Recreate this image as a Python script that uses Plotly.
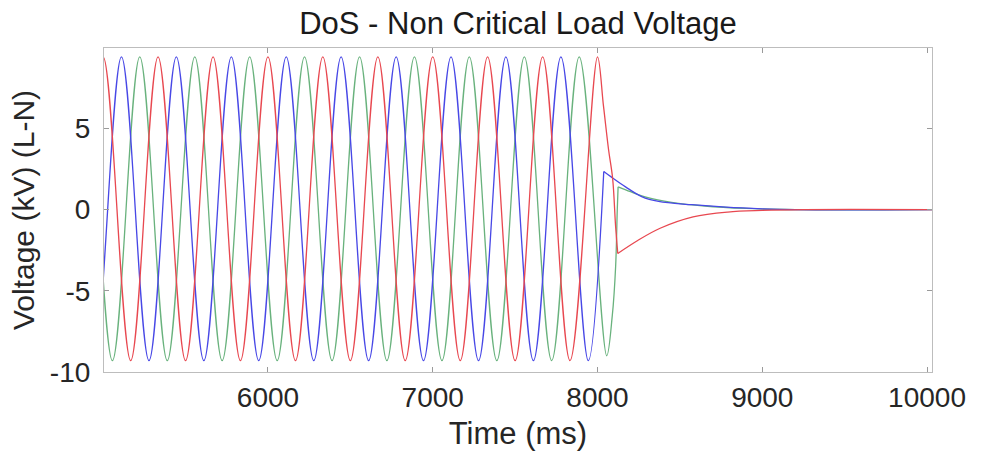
import plotly.graph_objects as go

# ---------------- data ----------------
# Phase A (red): extrema of the steady waveform, then the fall at the switching instant
red_t = [4833, 5000, 5167, 5333, 5500, 5667, 5833, 6000, 6167, 6333, 6500, 6667, 6833,
         7000, 7167, 7333, 7500, 7667, 7833, 8000, 8036, 8067, 8092, 8110, 8123]
red_v = [-9.3, 9.4, -9.3, 9.4, -9.3, 9.4, -9.3, 9.4, -9.3, 9.4, -9.3, 9.4, -9.3,
         9.4, -9.3, 9.4, -9.3, 9.4, -9.3, 9.4, 6.4, 3.7, 1.9, -1.05, -2.7]
red_decay_t = [8123, 8244, 8380, 8580, 8790, 9000, 9250, 10030]
red_decay_v = [-2.7, -1.9, -1.15, -0.45, -0.15, -0.05, 0.0, 0.0]

# Phase B (blue)
blue_t = [4778, 4944, 5111, 5278, 5444, 5611, 5778, 5944, 6111, 6278, 6444, 6611, 6778,
          6944, 7111, 7278, 7444, 7611, 7778, 7944, 8038]
blue_v = [9.4, -9.3, 9.4, -9.3, 9.4, -9.3, 9.4, -9.3, 9.4, -9.3, 9.4, -9.3, 9.4,
          -9.3, 9.4, -9.3, 9.4, -9.3, 9.4, -9.3, 2.35]
blue_decay_t = [8038, 8085, 8170, 8268, 8371, 8572, 8779, 9000, 9200, 10030]
blue_decay_v = [2.35, 2.0, 1.4, 0.8, 0.5, 0.3, 0.15, 0.05, 0.0, 0.0]

# Phase C (green)
green_t = [4722, 4889, 5056, 5222, 5389, 5556, 5722, 5889, 6056, 6222, 6389, 6556, 6722,
           6889, 7056, 7222, 7389, 7556, 7722, 7889, 8056, 8090, 8110, 8120, 8125]
green_v = [-9.3, 9.4, -9.3, 9.4, -9.3, 9.4, -9.3, 9.4, -9.3, 9.4, -9.3, 9.4, -9.3,
           9.4, -9.3, 9.4, -9.3, 9.4, -9.3, 9.4, -9.0, -6.5, -3.5, 0.0, 1.4]
green_decay_t = [8125, 8200, 8300, 8450, 8650, 8900, 9200, 10030]
green_decay_v = [1.4, 1.1, 0.75, 0.45, 0.22, 0.07, 0.0, 0.0]

x_ticks = [6000, 7000, 8000, 9000, 10000]
x_tick_text = ["6000", "7000", "8000", "9000", "10000"]
y_ticks = [-10, -5, 0, 5]
y_tick_text = ["-10", "-5", "0", "5"]

title_text = "DoS - Non Critical Load Voltage"
x_title = "Time (ms)"
y_title = "Voltage (kV) (L-N)"

# ---------------- styling ----------------
RED = "rgb(232,72,80)"
BLUE = "rgb(72,72,230)"
GREEN = "rgb(105,178,125)"
FONT = "Liberation Sans, Arial, Helvetica, sans-serif"
LW = 1.3

fig = go.Figure()

def add_phase(t, v, dt, dv, color):
    fig.add_trace(go.Scatter(x=t, y=v, mode="lines",
                             line=dict(color=color, width=LW, shape="spline"),
                             showlegend=False, hoverinfo="skip"))
    fig.add_trace(go.Scatter(x=dt, y=dv, mode="lines",
                             line=dict(color=color, width=LW, shape="spline"),
                             showlegend=False, hoverinfo="skip"))

add_phase(green_t, green_v, green_decay_t, green_decay_v, GREEN)
add_phase(blue_t, blue_v, blue_decay_t, blue_decay_v, BLUE)
add_phase(red_t, red_v, red_decay_t, red_decay_v, RED)

axis_common = dict(
    showgrid=False, zeroline=False, showline=True, linecolor="#bdbdbd", linewidth=1.2,
    mirror="allticks", ticks="inside", ticklen=5, tickcolor="#9a9a9a", tickwidth=1,
    tickfont=dict(family=FONT, size=28, color="#262626"),
)

fig.update_layout(
    width=986, height=455,
    margin=dict(l=104, r=54, t=48, b=83),
    paper_bgcolor="white", plot_bgcolor="white",
    title=dict(text=title_text, x=0.5, xanchor="center", xref="paper",
               y=0.95, yref="container", yanchor="middle",
               font=dict(family=FONT, size=31, color="#1a1a1a")),
    xaxis=dict(range=[5005, 10030], tickvals=x_ticks, ticktext=x_tick_text,
               title=dict(text=x_title, standoff=10,
                          font=dict(family=FONT, size=31, color="#262626")),
               **axis_common),
    yaxis=dict(range=[-10, 9.95], tickvals=y_ticks, ticktext=y_tick_text,
               ticklabelstandoff=7,
               title=dict(text=y_title, standoff=6,
                          font=dict(family=FONT, size=30, color="#262626")),
               **axis_common),
)

fig.write_html("out.html")
